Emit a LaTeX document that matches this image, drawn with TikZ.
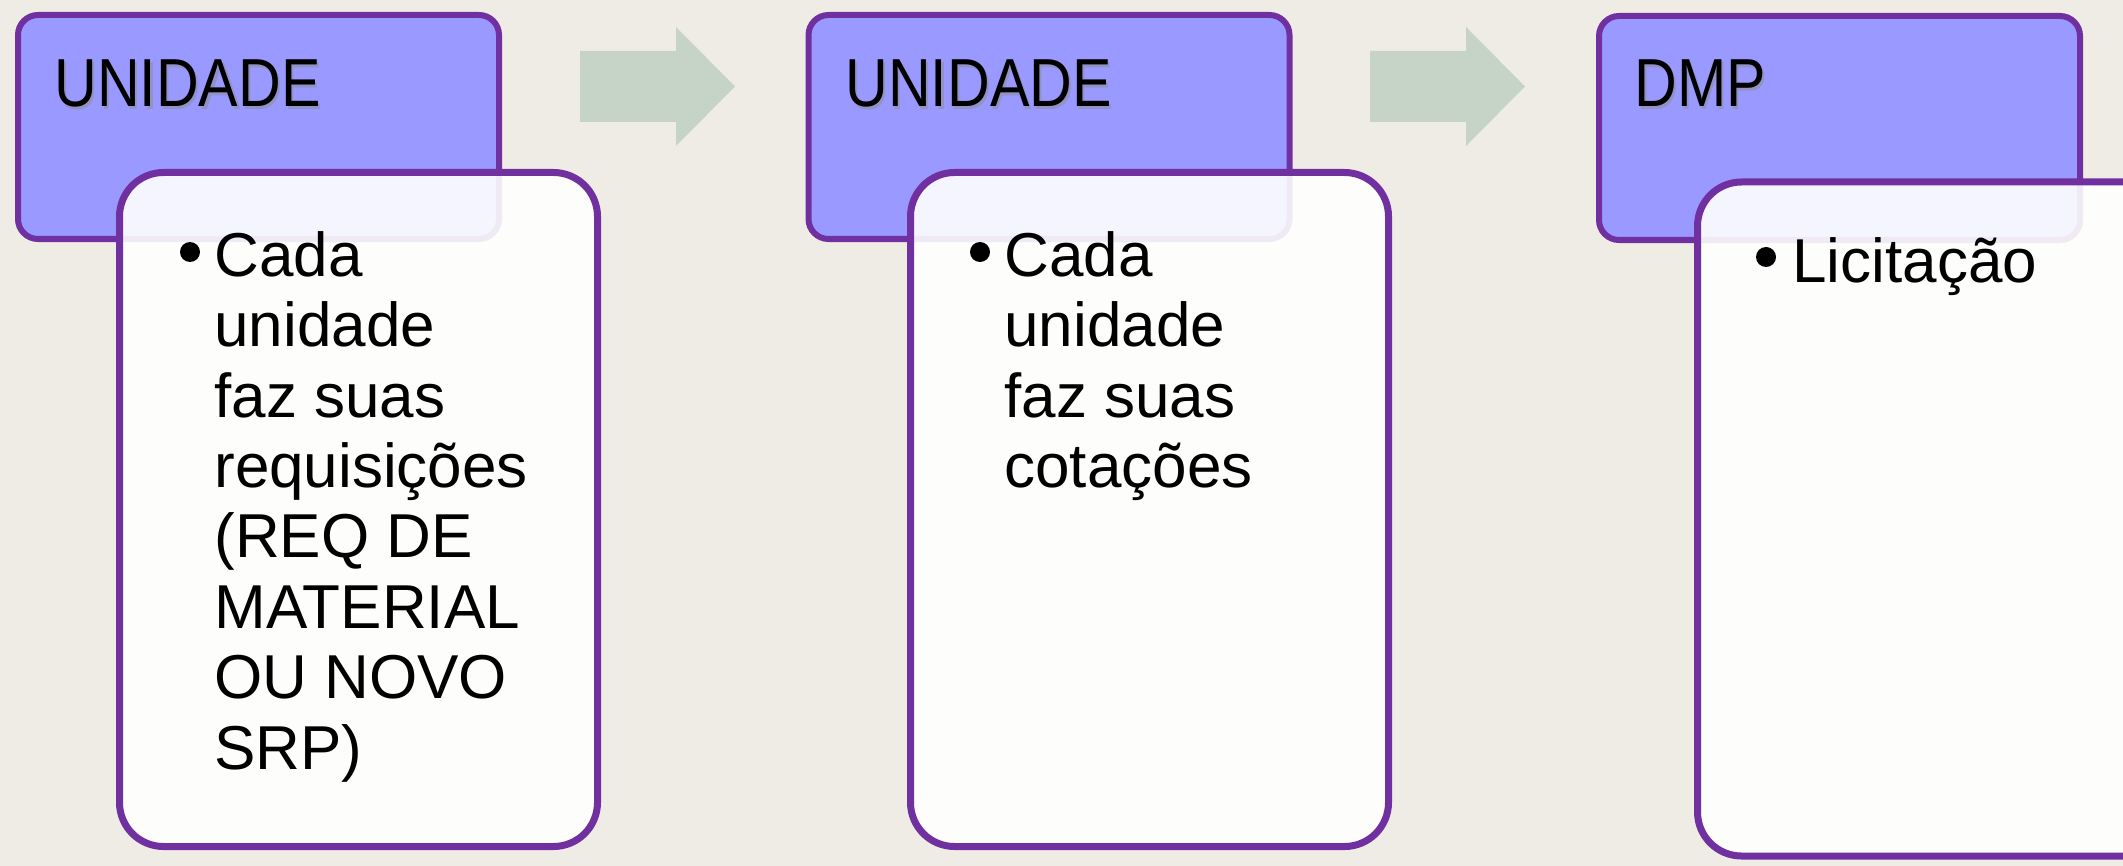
\documentclass[tikz,border=0pt]{standalone}
\usepackage{fontspec}
\setmainfont{Liberation Sans}
\newfontfamily\headfont[FakeStretch=0.87]{Liberation Sans}
\usetikzlibrary{positioning}

\definecolor{slidebg}{RGB}{239,236,230}
\definecolor{boxpurple}{RGB}{112,48,160}
\definecolor{headblue}{RGB}{153,153,255}
\definecolor{arrowgreen}{RGB}{197,212,199}

\begin{document}
\begin{tikzpicture}[x=0.5pt, y=-0.5pt,
    headbox/.style={draw=boxpurple, fill=headblue, line width=3pt, rounded corners=10pt,
        minimum width=240.5pt, minimum height=112pt, inner sep=0pt},
    bodybox/.style={draw=boxpurple, fill=white, fill opacity=0.9, line width=3.5pt, rounded corners=22pt,
        minimum width=239pt, minimum height=337pt, inner sep=0pt},
    headtext/.style={anchor=base west, inner sep=0pt, font=\headfont\fontsize{34}{40}\selectfont},
    headshadow/.style={headtext, text=black!45, text opacity=0.5},
    bodytext/.style={anchor=north west, inner sep=0pt, align=left, font=\fontsize{31}{35.2}\selectfont},
    bullet/.style={circle, fill=black, inner sep=0pt, minimum size=10pt},
    flowarrow/.style={fill=arrowgreen}]
    \useasboundingbox (0,0) rectangle (2123,866);
    \fill[slidebg] (0,0) rectangle (2123,866);

    % block arrows between the steps
    \coordinate (arr1) at (580,86.5);
    \coordinate (arr2) at (1370,86.5);
    \fill[flowarrow] (arr1) ++(0,-35.5) -- ++(96,0) -- ++(0,-24) -- ++(59,59.5)
        -- ++(-59,59.5) -- ++(0,-24) -- ++(-96,0) -- cycle;
    \fill[flowarrow] (arr2) ++(0,-35.5) -- ++(96,0) -- ++(0,-24) -- ++(59,59.5)
        -- ++(-59,59.5) -- ++(0,-24) -- ++(-96,0) -- cycle;

    % step 1
    \node[headbox] (head1) at (258.5,127) {};
    \node[bodybox] (body1) at (358.5,509.5) {};
    \node[headshadow] (sh1) at (56.5,109.5) {UNIDADE};
    \node[headtext] (t1) at (54,107) {UNIDADE};
    \node[bullet] (b1) at (190,252) {};
    \node[bodytext] (txt1) at (214,231) {Cada\\unidade\\faz suas\\requisições\\(REQ DE\\MATERIAL\\OU NOVO\\SRP)};

    % step 2
    \node[headbox] (head2) at (1049,127) {};
    \node[bodybox] (body2) at (1149.5,509.5) {};
    \node[headshadow] (sh2) at (847.5,109.5) {UNIDADE};
    \node[headtext] (t2) at (845,107) {UNIDADE};
    \node[bullet] (b2) at (980,252) {};
    \node[bodytext] (txt2) at (1004,231) {Cada\\unidade\\faz suas\\cotações};

    % step 3
    \node[headbox] (head3) at (1839.5,128) {};
    \node[bodybox] (body3) at (1936.5,519) {};
    \node[headshadow] (sh3) at (1636.5,109.5) {DMP};
    \node[headtext] (t3) at (1634,107) {DMP};
    \node[bullet] (b3) at (1766,257) {};
    \node[bodytext, anchor=base west] (txt3) at (1792,282) {Licitação};
\end{tikzpicture}
\end{document}
